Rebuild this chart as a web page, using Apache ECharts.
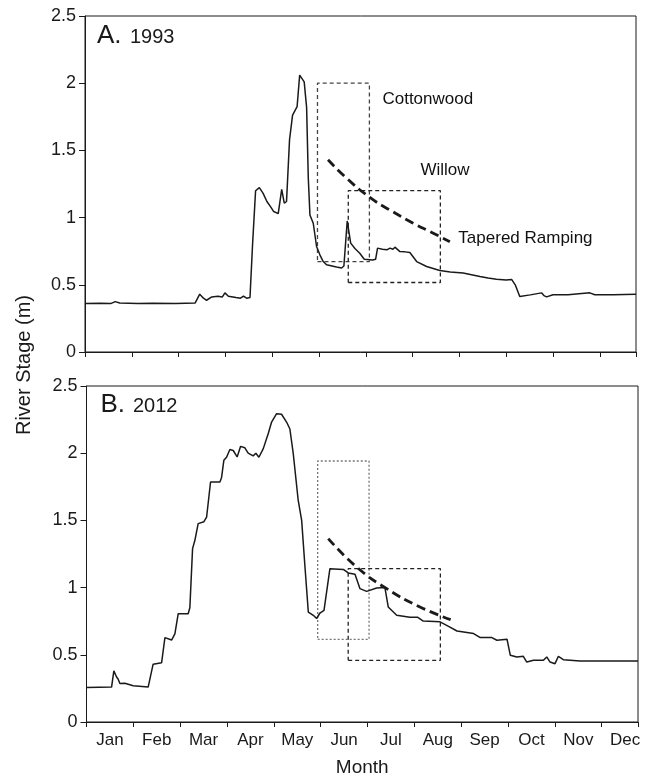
<!DOCTYPE html>
<html>
<head>
<meta charset="utf-8">
<script src="https://cdn.jsdelivr.net/npm/echarts@6/dist/echarts.min.js"></script>
<style>
  html, body { margin: 0; padding: 0; background: #fff; }
  #chart { width: 645px; height: 779px; }
</style>
</head>
<body>
<div id="chart"></div>
<script>
// month names shown under the bottom panel (ticks every 31 days)
const months = ['Jan', 'Feb', 'Mar', 'Apr', 'May', 'Jun', 'Jul', 'Aug', 'Sep', 'Oct', 'Nov', 'Dec']
const stageTicks = [0, 0.5, 1, 1.5, 2, 2.5]

// A. 1993 — day of year / river stage (m)
const day1993 = [0, 10, 17, 20, 23, 35, 45, 60, 73, 76, 78.5, 80.5, 84, 88, 91, 92.7, 95, 100, 103, 105, 107, 109.3,
  111, 113, 115.5, 118, 120.5, 123, 125, 128, 130.3, 132, 133.5, 135.5, 137.5, 140.5, 142.2, 143.5, 145.2, 146.8,
  147.9, 149, 151.2, 153.4, 155.6, 157.8, 160, 166.6, 170, 171.5, 173.7, 176, 178.8, 182, 185, 190.6, 192.5, 193.8,
  197, 200, 202, 204, 205.3, 208.6, 212, 215.2, 219.7, 226.3, 235, 242, 250.5, 256, 261.6, 267, 272.6, 279, 282.6,
  285, 288, 295, 302.4, 304, 305.8, 310, 320, 334.4, 337.7, 350, 365]
const stage1993 = [0.36, 0.362, 0.36, 0.375, 0.365, 0.36, 0.362, 0.36, 0.365, 0.43, 0.40, 0.385, 0.41, 0.415, 0.41, 0.44, 0.415, 0.405, 0.40, 0.415, 0.40, 0.405,
  0.8, 1.2, 1.223, 1.18, 1.12, 1.08, 1.045, 1.03, 1.21, 1.107, 1.12, 1.58, 1.763, 1.825, 2.06, 2.07, 2.01, 1.82,
  1.3, 1.02, 0.958, 0.785, 0.723, 0.673, 0.649, 0.632, 0.625, 0.64, 0.975, 0.81, 0.77, 0.735, 0.69, 0.684, 0.69, 0.773,
  0.765, 0.76, 0.773, 0.765, 0.78, 0.747, 0.745, 0.74, 0.673, 0.636, 0.606, 0.595, 0.587, 0.575, 0.562, 0.55, 0.542, 0.535, 0.54,
  0.5, 0.413, 0.425, 0.44, 0.42, 0.41, 0.426, 0.426, 0.44, 0.426, 0.426, 0.43]

// B. 2012
const day2012 = [0, 16.6, 18.1, 19.9, 20.9, 22.1, 25.4, 30.9, 40.8, 42, 44.1, 49.7, 50.7, 51.9, 56.3, 57.4, 58.5, 60.7,
  67.3, 68.4, 70.2, 71.7, 73.9, 77.7, 79.5, 82.1, 88.3, 89.4, 90.9, 92.7, 94.9, 97.1, 99.7, 102, 104.8, 107, 110.3,
  112.1, 114.1, 117, 120.3, 122.5, 125.8, 129.1, 132.5, 134.6, 136.8, 140.1, 142.4, 144.6, 146.8, 150.1, 152.3, 154.5,
  157.2, 161.1, 170, 173.2, 177.7, 181, 185.4, 192, 197.5, 199.7, 205.3, 214, 219, 222.9, 234, 239.6, 245.2, 256.2,
  260.6, 268.3, 271.6, 278.3, 280.5, 284.8, 289.1, 291.4, 295.8, 302.4, 304.6, 306.8, 310.1, 312.3, 315.6, 326.7, 339.9, 365]
const stage2012 = [0.256, 0.26, 0.38, 0.335, 0.32, 0.286, 0.288, 0.27, 0.26, 0.265, 0.43, 0.44, 0.45, 0.628, 0.61, 0.61, 0.655, 0.806,
  0.806, 0.85, 1.29, 1.35, 1.476, 1.49, 1.525, 1.786, 1.786, 1.82, 1.947, 1.97, 2.027, 2.02, 1.972, 2.051, 2.04, 2.0, 1.98,
  2.0, 1.97, 2.034, 2.146, 2.232, 2.294, 2.29, 2.23, 2.18, 2.0, 1.65, 1.5, 1.153, 0.818, 0.794, 0.77, 0.811,
  0.831, 1.141, 1.135, 1.109, 1.1, 0.992, 0.972, 0.997, 1.0, 0.856, 0.794, 0.78, 0.78, 0.751, 0.745, 0.712, 0.677, 0.658,
  0.628, 0.628, 0.608, 0.616, 0.496, 0.484, 0.489, 0.446, 0.459, 0.459, 0.484, 0.446, 0.434, 0.489, 0.464, 0.454, 0.454, 0.454]

// recruitment boxes: [first day, last day, low stage, high stage]
const cottonwood1993 = [154, 188.4, 0.673, 2.0]
const willow1993 = [174.4, 235.4, 0.517, 1.2]
const cottonwood2012 = [153, 187, 0.615, 1.942]
const willow2012 = [173.2, 234.2, 0.459, 1.141]

// tapered ramping curve
const taperDay1993 = [161, 173.3, 188.7, 201.9, 217.4, 230.7, 241.7]
const taperStage1993 = [1.43, 1.293, 1.15, 1.057, 0.958, 0.884, 0.82]
const taperDay2012 = [160, 178.8, 198.7, 220.7, 241]
const taperStage2012 = [1.365, 1.153, 0.992, 0.856, 0.762]

// labels inside panel A, anchored at their left edge
const notes1993 = [
  { name: 'Cottonwood', value: [196.7, 1.882] },
  { name: 'Willow', value: [221.9, 1.355] },
  { name: 'Tapered Ramping', value: [247, 0.844] }
]

const FONT = '"Liberation Sans", Arial, Helvetica, sans-serif'
const INK = '#1a1a1a'

const zip = (xs, ys) => xs.map((x, i) => [x, ys[i]])
const box = b => [[b[0], b[2]], [b[1], b[2]], [b[1], b[3]], [b[0], b[3]], [b[0], b[2]]]

const chart = echarts.init(document.getElementById('chart'), null, { renderer: 'canvas' })

function timeAxis (gridIndex) {
  return {
    type: 'value', gridIndex: gridIndex, min: 0, max: 365, interval: 31,
    axisLine: { show: true, lineStyle: { color: INK, width: 1 } },
    axisTick: { show: true, inside: false, length: 5, lineStyle: { color: INK } },
    axisLabel: { show: false },
    splitLine: { show: false }
  }
}

function stageAxis (gridIndex) {
  return {
    type: 'value', gridIndex: gridIndex,
    min: stageTicks[0], max: stageTicks[stageTicks.length - 1], interval: stageTicks[1] - stageTicks[0],
    axisLine: { show: true, lineStyle: { color: INK, width: 1 } },
    axisTick: { show: true, inside: false, length: 6, lineStyle: { color: INK } },
    axisLabel: { show: true, color: INK, fontFamily: FONT, fontSize: 18, margin: 9 },
    splitLine: { show: false }
  }
}

function boxSeries (b, axis, dash, color) {
  return {
    type: 'line', xAxisIndex: axis, yAxisIndex: axis === 0 ? 0 : 1, data: box(b),
    symbol: 'none', silent: true, z: 2,
    lineStyle: { color: color, width: 1.3, type: dash }
  }
}

function taperSeries (xs, ys, axis, yAxis) {
  return {
    type: 'line', xAxisIndex: axis, yAxisIndex: yAxis, data: zip(xs, ys),
    symbol: 'none', smooth: true, silent: true, z: 4,
    lineStyle: { color: INK, width: 2.8, type: [9, 5] }
  }
}

const option = {
  animation: false,
  backgroundColor: '#fff',
  grid: [
    { left: 85, top: 16, width: 551, height: 336, show: true, borderColor: INK, borderWidth: 1, outerBoundsMode: 'none' },
    { left: 86.5, top: 386, width: 551.5, height: 336, show: true, borderColor: INK, borderWidth: 1, outerBoundsMode: 'none' }
  ],
  xAxis: [
    timeAxis(0),
    timeAxis(1),
    {
      // month names centred between the 31-day ticks
      type: 'value', gridIndex: 1, min: 0, max: 365, interval: 15.5, position: 'bottom',
      axisLine: { show: false }, axisTick: { show: false }, splitLine: { show: false },
      axisLabel: {
        show: true, color: INK, fontFamily: FONT, fontSize: 17, margin: 10,
        formatter: v => {
          const k = Math.round(v / 15.5)
          return k % 2 === 1 ? (months[(k - 1) / 2] || '') : ''
        }
      },
      name: 'Month', nameLocation: 'middle', nameGap: 36,
      nameTextStyle: { color: INK, fontFamily: FONT, fontSize: 19 }
    }
  ],
  yAxis: [stageAxis(0), stageAxis(1)],
  graphic: [
    { type: 'text', x: 24, y: 365, rotation: Math.PI / 2,
      style: { text: 'River Stage (m)', font: '20px ' + FONT, fill: INK, textAlign: 'center', textVerticalAlign: 'middle', align: 'center', verticalAlign: 'middle' } },
    { type: 'text', x: 97, y: 35.5,
      style: { text: 'A.', font: '26px ' + FONT, fill: INK, textAlign: 'left', textVerticalAlign: 'middle', align: 'left', verticalAlign: 'middle' } },
    { type: 'text', x: 130, y: 37.3,
      style: { text: '1993', font: '20px ' + FONT, fill: INK, textAlign: 'left', textVerticalAlign: 'middle', align: 'left', verticalAlign: 'middle' } },
    { type: 'text', x: 100.5, y: 404.5,
      style: { text: 'B.', font: '26px ' + FONT, fill: INK, textAlign: 'left', textVerticalAlign: 'middle', align: 'left', verticalAlign: 'middle' } },
    { type: 'text', x: 133, y: 406.5,
      style: { text: '2012', font: '20px ' + FONT, fill: INK, textAlign: 'left', textVerticalAlign: 'middle', align: 'left', verticalAlign: 'middle' } }
  ],
  series: [
    boxSeries(cottonwood1993, 0, [4, 3], '#444'),
    boxSeries(willow1993, 0, [4, 3], '#222'),
    boxSeries(cottonwood2012, 1, [2, 2], '#777'),
    boxSeries(willow2012, 1, [4, 3], '#222'),
    taperSeries(taperDay1993, taperStage1993, 0, 0),
    taperSeries(taperDay2012, taperStage2012, 1, 1),
    {
      name: '1993', type: 'line', xAxisIndex: 0, yAxisIndex: 0, data: zip(day1993, stage1993),
      showSymbol: false, symbol: 'none', z: 3, lineStyle: { color: INK, width: 1.5 }
    },
    {
      name: '2012', type: 'line', xAxisIndex: 1, yAxisIndex: 1, data: zip(day2012, stage2012),
      showSymbol: false, symbol: 'none', z: 3, lineStyle: { color: INK, width: 1.5 }
    },
    {
      type: 'scatter', xAxisIndex: 0, yAxisIndex: 0, data: notes1993, symbolSize: 1, silent: true,
      itemStyle: { color: 'rgba(0,0,0,0)' },
      label: { show: true, position: 'right', distance: 0, formatter: p => p.name, color: '#111', opacity: 1, fontFamily: FONT, fontSize: 17 }
    }
  ]
}

chart.setOption(option)
</script>
</body>
</html>
